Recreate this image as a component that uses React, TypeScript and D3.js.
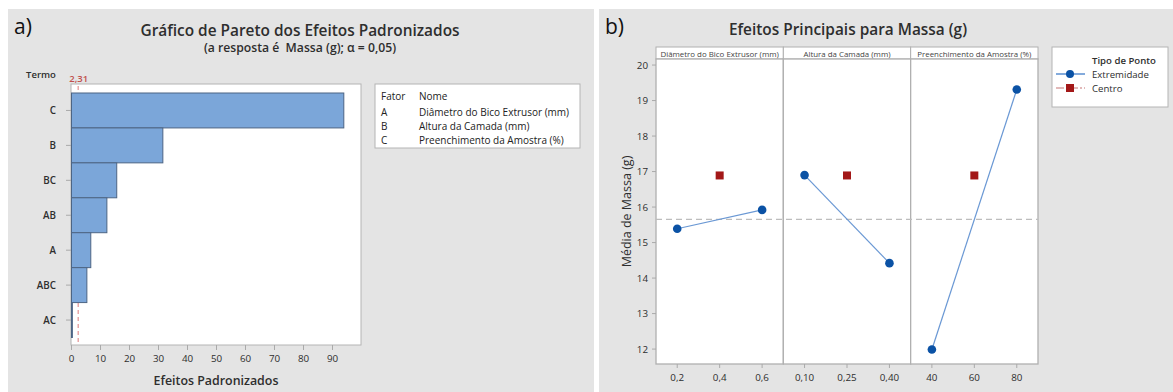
import { useEffect } from "react";
import * as d3 from "d3";

// --- Pareto (a) ---
const terms = ["C", "B", "BC", "AB", "A", "ABC", "AC"];
const effects = [93.9, 31.5, 15.6, 12.2, 6.65, 5.3, 0.3];
const criticalValue = 2.31;
const paretoTicks = [0, 10, 20, 30, 40, 50, 60, 70, 80, 90];
const factorCodes = ["A", "B", "C"];
const factorNames = [
  "Diâmetro do Bico Extrusor (mm)",
  "Altura da Camada (mm)",
  "Preenchimento da Amostra (%)",
];

// --- Efeitos principais (b) ---
const panelTitles = factorNames;
const lowLevels = [0.2, 0.1, 40];
const highLevels = [0.6, 0.4, 80];
const centerLevels = [0.4, 0.25, 60];
const lowMeans = [15.39, 16.9, 11.99];
const highMeans = [15.92, 14.42, 19.31];
const centerMeans = [16.89, 16.89, 16.89];
const panelDomains = [
  [0.1, 0.7],
  [0.025, 0.475],
  [30, 90],
];
const panelTicks = [
  [0.2, 0.4, 0.6],
  [0.1, 0.25, 0.4],
  [40, 60, 80],
];
const panelTickLabels = [
  ["0,2", "0,4", "0,6"],
  ["0,10", "0,25", "0,40"],
  ["40", "60", "80"],
];
const meanTicks = [12, 13, 14, 15, 16, 17, 18, 19, 20];
const grandMean = 15.655;

const FONT = "'Open Sans', 'Noto Sans', sans-serif";
const PANEL_BG = "#e4e4e4";
const TXT = "#2e2e2e";

function Pareto() {
  const x = d3.scaleLinear().domain([0, 100]).range([71.5, 361.5]);
  const y = d3.scaleBand().domain(terms).range([93, 337.5]).padding(0);
  const plot = { left: 71, top: 84, right: 361, bottom: 345 };
  return (
    <g>
      <rect x={8} y={9} width={586} height={383} fill={PANEL_BG} />
      <text x={14} y={34} fontSize={21} fill="#111" fontFamily={FONT}>a)</text>
      <text x={300} y={36} textAnchor="middle" fontSize={15.4} fontWeight={600} fill={TXT} fontFamily={FONT}>
        Gráfico de Pareto dos Efeitos Padronizados
      </text>
      <text x={300} y={52} textAnchor="middle" fontSize={12.2} fontWeight={600} fill={TXT} fontFamily={FONT} style={{ whiteSpace: "pre" }}>
        {"(a resposta é  Massa (g); α = 0,05)"}
      </text>
      <text x={41} y={74} textAnchor="middle" dominantBaseline="central" fontSize={9.5} fontWeight={600} fill={TXT} fontFamily={FONT}>
        Termo
      </text>
      <text x={x(criticalValue) + 0.5} y={78} textAnchor="middle" dominantBaseline="central" fontSize={9.5} fontWeight={600} fill="#c0504d" fontFamily={FONT}>
        {String(criticalValue).replace(".", ",")}
      </text>
      <rect x={plot.left} y={plot.top} width={plot.right - plot.left} height={plot.bottom - plot.top} fill="#fff" stroke="#b4b4b4" />
      <line x1={x(criticalValue)} x2={x(criticalValue)} y1={plot.top + 2} y2={plot.bottom} stroke="#e49a9a" strokeWidth={1.3} strokeDasharray="4,3" />
      {terms.map((t, i) => (
        <rect key={t} x={x(0)} y={y(t)} width={Math.max(0, x(effects[i]) - x(0))} height={y.bandwidth()} fill="#7ba6d9" stroke="#4d6584" strokeWidth={1} />
      ))}
      {terms.map((t) => (
        <g key={t}>
          <line x1={66} x2={71} y1={y(t)! + y.bandwidth() / 2} y2={y(t)! + y.bandwidth() / 2} stroke="#aaa" />
          <text x={56} y={y(t)! + y.bandwidth() / 2} textAnchor="end" dominantBaseline="central" fontSize={9.8} fontWeight={600} fill={TXT} fontFamily={FONT}>
            {t}
          </text>
        </g>
      ))}
      {paretoTicks.map((v) => (
        <g key={v}>
          <line x1={x(v)} x2={x(v)} y1={plot.bottom} y2={plot.bottom + 5} stroke="#aaa" />
          <text x={x(v)} y={358} textAnchor="middle" dominantBaseline="central" fontSize={9.8} fill={TXT} fontFamily={FONT}>
            {v}
          </text>
        </g>
      ))}
      <text x={216} y={380} textAnchor="middle" dominantBaseline="central" fontSize={12.4} fontWeight={600} fill={TXT} fontFamily={FONT}>
        Efeitos Padronizados
      </text>
      <rect x={375} y={84} width={205} height={64} fill="#fff" stroke="#b4b4b4" />
      <text x={381} y={96} dominantBaseline="central" fontSize={10} fill="#222" fontFamily={FONT}>Fator</text>
      <text x={419} y={96} dominantBaseline="central" fontSize={10} fill="#222" fontFamily={FONT}>Nome</text>
      {factorCodes.map((c, i) => (
        <g key={c}>
          <text x={381} y={111.5 + i * 14.3} dominantBaseline="central" fontSize={10} fill="#222" fontFamily={FONT}>{c}</text>
          <text x={419} y={111.5 + i * 14.3} dominantBaseline="central" fontSize={10} fill="#222" fontFamily={FONT}>{factorNames[i]}</text>
        </g>
      ))}
    </g>
  );
}

function MainEffects() {
  const left = 656;
  const right = 1038;
  const pw = (right - left) / 3;
  const stripTop = 47;
  const top = 59;
  const bottom = 364;
  const y = d3.scaleLinear().domain([11.58, 20.17]).range([bottom, top]);
  const blue = "#0b52a5";
  const red = "#a31818";
  return (
    <g>
      <rect x={599} y={9} width={574} height={383} fill={PANEL_BG} />
      <text x={605} y={34} fontSize={21} fill="#111" fontFamily={FONT}>b)</text>
      <text x={848} y={35} textAnchor="middle" fontSize={15.4} fontWeight={600} fill={TXT} fontFamily={FONT}>
        Efeitos Principais para Massa (g)
      </text>
      {panelTitles.map((title, i) => {
        const x0 = left + i * pw;
        const x = d3.scaleLinear().domain(panelDomains[i]).range([x0, x0 + pw]);
        return (
          <g key={title}>
            <rect x={x0} y={stripTop} width={pw} height={top - stripTop} fill="#fff" stroke="#b0b0b0" />
            <text x={x0 + pw / 2} y={(stripTop + top) / 2 + 0.5} textAnchor="middle" dominantBaseline="central" fontSize={7.9} fill="#444" fontFamily={FONT}>
              {title}
            </text>
            <rect x={x0} y={top} width={pw} height={bottom - top} fill="#fff" stroke="#b0b0b0" strokeWidth={1.3} />
            {panelTicks[i].map((v, j) => (
              <g key={v}>
                <line x1={x(v)} x2={x(v)} y1={bottom} y2={bottom + 4} stroke="#aaa" />
                <text x={x(v)} y={377} textAnchor="middle" dominantBaseline="central" fontSize={9.8} fill={TXT} fontFamily={FONT}>
                  {panelTickLabels[i][j]}
                </text>
              </g>
            ))}
          </g>
        );
      })}
      <line x1={left} x2={right} y1={y(grandMean)} y2={y(grandMean)} stroke="#bdbdbd" strokeWidth={1.2} strokeDasharray="6,4" />
      {panelTitles.map((title, i) => {
        const x0 = left + i * pw;
        const x = d3.scaleLinear().domain(panelDomains[i]).range([x0, x0 + pw]);
        const line = d3.line<[number, number]>().x((d) => x(d[0])).y((d) => y(d[1]));
        const pts: [number, number][] = [
          [lowLevels[i], lowMeans[i]],
          [highLevels[i], highMeans[i]],
        ];
        return (
          <g key={"m" + title}>
            <path d={line(pts) ?? ""} fill="none" stroke="#6a98d4" strokeWidth={1.2} />
            {pts.map((p, k) => (
              <circle key={k} cx={x(p[0])} cy={y(p[1])} r={4.3} fill={blue} />
            ))}
            <rect x={x(centerLevels[i]) - 4} y={y(centerMeans[i]) - 4} width={8} height={8} fill={red} />
          </g>
        );
      })}
      {meanTicks.map((v) => (
        <g key={v}>
          <line x1={652} x2={656} y1={y(v)} y2={y(v)} stroke="#aaa" />
          <text x={648} y={y(v)} textAnchor="end" dominantBaseline="central" fontSize={9.8} fill={TXT} fontFamily={FONT}>
            {v}
          </text>
        </g>
      ))}
      <text transform={`translate(626,${(top + bottom) / 2}) rotate(-90)`} textAnchor="middle" dominantBaseline="central" fontSize={12.5} fill={TXT} fontFamily={FONT}>
        Média de Massa (g)
      </text>
      <rect x={1052} y={47} width={116} height={60} fill="#fff" stroke="#b4b4b4" />
      <text x={1092} y={60} dominantBaseline="central" fontSize={9.6} fontWeight={600} fill={TXT} fontFamily={FONT}>Tipo de Ponto</text>
      <line x1={1056} x2={1085} y1={74} y2={74} stroke="#5b8fd0" strokeWidth={1.5} />
      <circle cx={1070} cy={74} r={4} fill={blue} />
      <text x={1092} y={74} dominantBaseline="central" fontSize={9.6} fill={TXT} fontFamily={FONT}>Extremidade</text>
      <line x1={1056} x2={1085} y1={88} y2={88} stroke="#d9a3a3" strokeWidth={1.5} strokeDasharray="8,2,2,2" />
      <rect x={1066} y={84} width={8} height={8} fill={red} />
      <text x={1092} y={88} dominantBaseline="central" fontSize={9.6} fill={TXT} fontFamily={FONT}>Centro</text>
    </g>
  );
}

export default function App() {
  useEffect(() => {
    document.body.style.margin = "0";
  }, []);
  return (
    <svg width={1173} height={392} style={{ display: "block", background: "#fff" }}>
      <Pareto />
      <MainEffects />
    </svg>
  );
}
